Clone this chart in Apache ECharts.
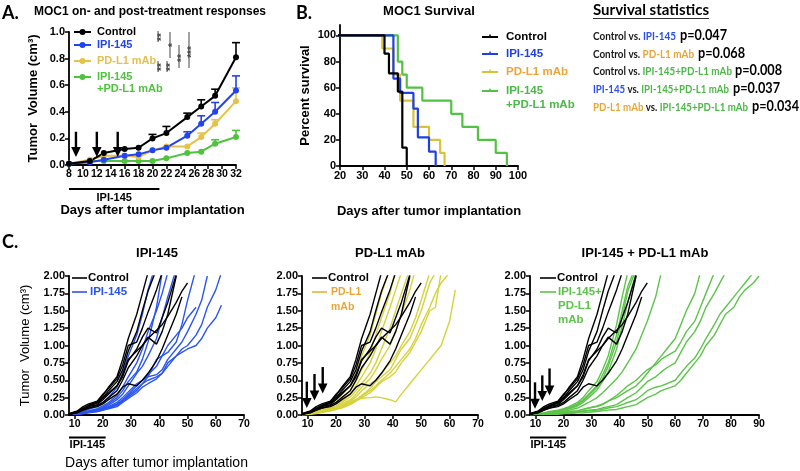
<!DOCTYPE html>
<html><head><meta charset="utf-8">
<script src="https://cdn.jsdelivr.net/npm/echarts@6/dist/echarts.min.js"></script>
<style>html,body{margin:0;padding:0;background:#fff}#c{width:800px;height:471px}</style>
</head><body><div id="c"></div>
<script>
// ================= DATA =================
// Panel A: mean tumor volume (cm3) and upper error bar
const aDays = [8, 11, 13, 16, 18, 20, 22, 25, 27, 29, 32];
const aControl    = [0.01, 0.03, 0.09, 0.12, 0.13, 0.20, 0.24, 0.36, 0.44, 0.52, 0.81];
const aControlUp  = [0.01, 0.03, 0.09, 0.12, 0.13, 0.23, 0.29, 0.39, 0.49, 0.57, 0.92];
const aIpi        = [0.01, 0.02, 0.04, 0.07, 0.08, 0.11, 0.13, 0.22, 0.31, 0.40, 0.56];
const aIpiUp      = [0.01, 0.02, 0.04, 0.07, 0.08, 0.11, 0.13, 0.25, 0.37, 0.47, 0.67];
const aPd         = [0.01, 0.04, 0.07, 0.07, 0.06, 0.11, 0.14, 0.14, 0.21, 0.31, 0.48];
const aPdUp       = [0.01, 0.04, 0.07, 0.07, 0.06, 0.11, 0.15, 0.16, 0.24, 0.34, 0.58];
const aCombo      = [0.01, 0.03, 0.03, 0.03, 0.03, 0.03, 0.05, 0.09, 0.10, 0.16, 0.21];
const aComboUp    = [0.01, 0.03, 0.03, 0.03, 0.03, 0.03, 0.05, 0.09, 0.10, 0.19, 0.26];
const aArrows = [[9, 0.25, 0.06], [12, 0.25, 0.06], [15, 0.25, 0.06]]; // day, top, tip

// Panel B: Kaplan-Meier survival (day, percent)
const survCtlX   = [0, 40, 42, 46, 48, 50];
const survCtlY   = [100, 86, 71, 57, 14, 0];
const survIpiX   = [0, 44, 47, 53, 55, 60, 63];
const survIpiY   = [100, 67, 56, 44, 22, 11, 0];
const survPdX    = [0, 39, 44, 47, 53, 60, 65, 67];
const survPdY    = [100, 90, 70, 50, 30, 20, 10, 0];
const survComboX = [0, 46, 48, 50, 57, 70, 75, 82, 90, 95];
const survComboY = [100, 80, 70, 60, 50, 40, 30, 20, 10, 0];
const survYTicks = [0, 20, 40, 60, 80, 100];

// Panel C: individual tumor growth curves, measured on these days
const cDays = [8, 11, 13, 15, 18, 20, 22, 25, 27, 29, 32, 34, 36, 39, 41, 43, 46, 48, 50, 53, 55, 57, 60, 62, 64, 67, 69, 71, 74, 76, 78, 81, 83, 85, 88, 90];
const cControl = [
  [0.01,0.04,0.10,0.14,0.19,0.28,0.40,0.55,0.80,1.10,1.45,1.75,2.05],
  [0.01,0.05,0.08,0.12,0.18,0.25,0.35,0.48,0.65,0.92,1.20,1.50,1.78,2.10],
  [0.02,0.06,0.12,0.16,0.20,0.30,0.38,0.52,0.72,1.00,1.05,1.25,1.48,1.80,2.05],
  [0.01,0.05,0.08,0.12,0.15,0.22,0.30,0.42,0.55,0.78,0.95,1.12,1.25,1.18,1.40,1.62,2.02],
  [0.01,0.03,0.07,0.10,0.14,0.18,0.25,0.35,0.50,0.68,0.85,1.00,1.12,1.02,1.20,1.45,2.00],
  [0.01,0.04,0.07,0.10,0.12,0.16,0.22,0.30,0.40,0.45,0.42,0.50,0.60,0.78,0.95,1.15,1.45,1.70],
  [0.02,0.05,0.09,0.13,0.17,0.24,0.32,0.42,0.58,0.80,0.92,1.00,1.10,1.22,1.30,1.42,1.62,1.78,1.90]
];
const cIpi = [
  [0.01,0.03,0.05,0.08,0.12,0.18,0.25,0.40,0.60,0.85,1.15,1.45,1.80,2.20],
  [0.01,0.02,0.04,0.06,0.09,0.13,0.18,0.28,0.40,0.55,0.75,0.95,1.20,1.50,1.75,2.05],
  [0.01,0.02,0.03,0.05,0.08,0.11,0.16,0.25,0.35,0.48,0.62,0.80,1.05,1.55,2.05],
  [0.01,0.02,0.04,0.05,0.07,0.10,0.14,0.22,0.30,0.42,0.60,0.70,0.85,1.10,1.40,1.70,2.10],
  [0.01,0.02,0.03,0.05,0.07,0.09,0.12,0.18,0.25,0.33,0.45,0.50,0.58,0.70,0.85,1.00,1.15,1.25,1.40,1.55],
  [0.01,0.02,0.03,0.04,0.06,0.08,0.11,0.16,0.22,0.30,0.42,0.50,0.55,0.80,0.85,0.90,1.05,1.30,1.65,2.10],
  [0.01,0.01,0.02,0.04,0.05,0.07,0.10,0.15,0.20,0.28,0.38,0.45,0.55,0.58,0.65,0.80,0.95,1.05,1.20,1.45,1.65,2.00],
  [0.01,0.02,0.03,0.04,0.06,0.08,0.10,0.14,0.20,0.26,0.35,0.45,0.50,0.55,0.60,0.75,0.85,0.95,1.00,1.15,1.30,1.55,1.80,2.05],
  [0.01,0.01,0.02,0.03,0.05,0.07,0.09,0.12,0.18,0.24,0.32,0.40,0.45,0.52,0.60,0.70,0.85,0.90,0.95,1.00,1.10,1.25,1.40,1.58]
];
const cPd = [
  [0.01,0.04,0.08,0.12,0.17,0.22,0.30,0.42,0.60,0.85,1.15,1.45,1.75,2.10],
  [0.01,0.03,0.06,0.10,0.14,0.18,0.24,0.35,0.48,0.65,0.90,1.15,1.40,1.75,2.10],
  [0.01,0.03,0.05,0.08,0.12,0.16,0.20,0.30,0.42,0.55,0.75,0.95,1.20,1.55,1.80,2.05],
  [0.01,0.02,0.05,0.07,0.10,0.13,0.18,0.26,0.35,0.45,0.60,0.75,0.95,1.25,1.50,1.75,2.10],
  [0.01,0.02,0.04,0.06,0.09,0.12,0.16,0.22,0.30,0.40,0.52,0.65,0.80,1.00,1.20,1.45,1.80,2.10],
  [0.01,0.02,0.04,0.06,0.08,0.10,0.14,0.20,0.26,0.35,0.45,0.50,0.60,0.75,0.85,1.00,1.20,1.40,1.65,2.05],
  [0.01,0.02,0.03,0.05,0.07,0.09,0.12,0.18,0.22,0.28,0.38,0.48,0.55,0.65,0.80,0.95,1.10,1.30,1.50,1.90,2.05],
  [0.01,0.02,0.03,0.04,0.06,0.08,0.10,0.15,0.20,0.25,0.32,0.40,0.48,0.55,0.62,0.75,0.90,1.05,1.20,1.50,1.55,2.05],
  [0.01,0.02,0.03,0.05,0.07,0.09,0.11,0.16,0.21,0.27,0.35,0.42,0.50,0.60,0.70,0.80,0.95,1.10,1.30,1.55,1.75,1.90,2.05],
  [0.00,0.01,0.02,0.04,0.06,0.08,0.12,0.18,0.22,0.24,0.25,0.26,0.25,0.22,0.19,0.30,0.45,0.55,0.65,0.80,0.90,1.00,1.35,1.80]
];
const cCombo = [
  [0.01,0.02,0.03,0.05,0.07,0.09,0.12,0.18,0.25,0.35,0.48,0.65,0.85,1.30,1.70,2.05],
  [0.01,0.02,0.03,0.04,0.06,0.08,0.11,0.16,0.22,0.30,0.42,0.58,0.75,1.15,1.50,1.85,2.15],
  [0.01,0.01,0.02,0.04,0.05,0.07,0.10,0.14,0.20,0.28,0.40,0.52,0.70,1.05,1.40,1.78,2.10],
  [0.01,0.01,0.02,0.03,0.05,0.07,0.09,0.13,0.18,0.25,0.36,0.48,0.62,0.95,1.28,1.62,2.05],
  [0.01,0.01,0.02,0.03,0.04,0.05,0.07,0.10,0.14,0.18,0.25,0.32,0.40,0.52,0.62,0.75,0.95,1.15,1.35,1.70,2.05],
  [0.01,0.01,0.01,0.02,0.03,0.04,0.05,0.06,0.08,0.10,0.13,0.16,0.20,0.25,0.30,0.35,0.42,0.50,0.60,0.75,0.85,0.95,1.10,1.30,1.50,1.75,2.05],
  [0.01,0.01,0.02,0.02,0.03,0.04,0.05,0.06,0.08,0.10,0.12,0.15,0.20,0.28,0.35,0.42,0.50,0.58,0.65,0.72,0.80,0.85,0.92,1.05,1.20,1.35,1.55,1.75,2.05],
  [0.01,0.01,0.01,0.02,0.02,0.03,0.04,0.05,0.06,0.07,0.08,0.10,0.12,0.15,0.20,0.25,0.32,0.40,0.48,0.55,0.62,0.68,0.75,0.90,1.05,1.20,1.35,1.55,1.75,1.90,2.05],
  [0.01,0.01,0.01,0.01,0.02,0.02,0.03,0.04,0.05,0.06,0.07,0.08,0.10,0.12,0.15,0.18,0.22,0.28,0.35,0.40,0.42,0.45,0.50,0.60,0.70,0.82,0.95,1.10,1.30,1.45,1.55,1.70,1.80,1.90,2.05],
  [0.00,0.01,0.01,0.01,0.01,0.02,0.02,0.03,0.03,0.04,0.05,0.06,0.07,0.08,0.10,0.12,0.15,0.20,0.25,0.30,0.35,0.38,0.42,0.50,0.60,0.75,0.85,1.00,1.15,1.30,1.45,1.55,1.70,1.80,1.90,2.00]
];
const c2Arrows = [[9.7, 0.48, 0.10], [12.4, 0.59, 0.21], [15.3, 0.69, 0.31]];
const c3Arrows = [[9.8, 0.47, 0.09], [12.4, 0.57, 0.20], [15.0, 0.67, 0.28]];
const cXTicks70 = [10, 20, 30, 40, 50, 60, 70];
const cXTicks90 = [10, 20, 30, 40, 50, 60, 70, 80, 90];
const ipiPeriod = [8, 21]; // IPI-145 dosing days (bar under axis)

// Survival statistics (log-rank p values)
const statPairs = [
  ['Control', 'IPI-145', 'p=0.047'],
  ['Control', 'PD-L1 mAb', 'p=0.068'],
  ['Control', 'IPI-145+PD-L1 mAb', 'p=0.008'],
  ['IPI-145', 'IPI-145+PD-L1 mAb', 'p=0.037'],
  ['PD-L1 mAb', 'IPI-145+PD-L1 mAb', 'p=0.034']
];

// ================= STYLE =================
const FONT = '"Liberation Sans", Arial, Helvetica, sans-serif';
const CAL = 'Lato, "Open Sans", sans-serif';
const BLACK = '#000000', BLUE = '#2244ee', GOLD = '#e6c24a', GREEN = '#4fc23e';
const C_BLUE = '#2a55f0', C_YEL = '#d6d23c', C_GREEN = '#5cc44a';
const ORANGE = '#e8a638';

function axis(o) {
  const base = {
    type: 'value', splitLine: {show: false},
    axisLine: {show: true, onZero: false, lineStyle: {color: '#000', width: 1.8}},
    nameTextStyle: {fontWeight: 'bold', fontSize: 13, color: '#000', fontFamily: FONT}
  };
  const lab = Object.assign({color: '#000', fontWeight: 'bold', fontSize: 11, fontFamily: FONT, margin: 4}, o.axisLabel || {});
  const tick = Object.assign({show: true, length: 4, lineStyle: {color: '#000', width: 1.5}}, o.axisTick || {});
  const r = Object.assign(base, o);
  r.axisLabel = lab; r.axisTick = tick;
  if (o.nameTextStyle) r.nameTextStyle = Object.assign({}, base.nameTextStyle, o.nameTextStyle);
  return r;
}

function zip(xs, ys) { return ys.map((v, i) => [xs[i], v]); }

function errSeries(means, ups, color) {
  return {
    type: 'custom', xAxisIndex: 0, yAxisIndex: 0, silent: true, z: 3,
    itemStyle: {color: color},
    data: aDays.map((d, i) => [d, means[i], ups[i]]),
    encode: {x: 0, y: [1, 2]},
    renderItem: function (p, api) {
      const lo = api.coord([api.value(0), api.value(1)]);
      const hi = api.coord([api.value(0), api.value(2)]);
      if (lo[1] - hi[1] < 3) return {type: 'group', children: []};
      return {type: 'group', children: [
        {type: 'line', shape: {x1: lo[0], y1: lo[1], x2: hi[0], y2: hi[1]}, style: {stroke: color, lineWidth: 1.6}},
        {type: 'line', shape: {x1: hi[0] - 4, y1: hi[1], x2: hi[0] + 4, y2: hi[1]}, style: {stroke: color, lineWidth: 1.6}}
      ]};
    }
  };
}

function arrowSeries(idx, arr) {
  return {
    type: 'custom', xAxisIndex: idx, yAxisIndex: idx, silent: true, z: 10,
    data: arr, encode: {x: 0, y: [1, 2]},
    renderItem: function (p, api) {
      const top = api.coord([api.value(0), api.value(1)]);
      const tip = api.coord([api.value(0), api.value(2)]);
      const hh = 10, hw = 4.8;
      return {type: 'group', children: [
        {type: 'line', shape: {x1: top[0], y1: top[1], x2: tip[0], y2: tip[1] - hh + 1}, style: {stroke: '#000', lineWidth: 2.4}},
        {type: 'polygon', shape: {points: [[tip[0] - hw, tip[1] - hh], [tip[0] + hw, tip[1] - hh], [tip[0], tip[1]]]}, style: {fill: '#000'}}
      ]};
    }
  };
}

function meanSeries(name, vals, color) {
  return {
    name: name, type: 'line', xAxisIndex: 0, yAxisIndex: 0, data: zip(aDays, vals),
    symbol: 'circle', symbolSize: 6, showSymbol: true,
    lineStyle: {color: color, width: 2}, itemStyle: {color: color}, z: 4
  };
}

function survSeries(name, xs, ys, color) {
  return {
    name: name, type: 'line', xAxisIndex: 1, yAxisIndex: 1, step: 'end', data: zip(xs, ys),
    symbol: 'none', showSymbol: false, clip: true,
    lineStyle: {color: color, width: 2.2}, itemStyle: {color: color}
  };
}

function mouseSeries(idx, group, color, label) {
  return group.map((vals, k) => ({
    name: label + ' ' + (k + 1), type: 'line', xAxisIndex: idx, yAxisIndex: idx,
    data: zip(cDays, vals), symbol: 'none', showSymbol: false, clip: true, silent: true,
    lineStyle: {color: color, width: 1.4}
  }));
}

const cY = (idx, withName) => axis({
  gridIndex: idx, min: 0, max: 2, interval: 0.25,
  axisLabel: {formatter: v => v.toFixed(2), fontSize: 11},
  name: withName ? 'Tumor  Volume (cm³)' : '', nameLocation: 'middle', nameRotate: 90, nameGap: 37,
  nameTextStyle: {fontSize: 13}
});
const cX = (idx, max, ticks, withName) => axis({
  gridIndex: idx, min: 8, max: max,
  axisLabel: {customValues: ticks, fontSize: 10.5},
  axisTick: {customValues: ticks},
  name: withName ? 'Days after tumor implantation' : '', nameLocation: 'middle', nameGap: 41,
  nameTextStyle: {fontSize: 14}
});

const option = {
  animation: false,
  textStyle: {fontFamily: FONT},
  grid: [
    {left: 69, top: 32, width: 167, height: 133},
    {left: 340, top: 25, width: 178, height: 141},
    {left: 69, top: 276, width: 175, height: 139},
    {left: 302, top: 276, width: 176, height: 139},
    {left: 530, top: 276, width: 229, height: 139}
  ],
  xAxis: [
    axis({gridIndex: 0, min: 8, max: 32, interval: 2, axisLabel: {fontSize: 10.5},
      name: 'Days after tumor implantation', nameLocation: 'middle', nameGap: 39}),
    axis({gridIndex: 1, min: 20, max: 100, interval: 10,
      name: 'Days after tumor implantation', nameLocation: 'middle', nameGap: 39}),
    cX(2, 70, cXTicks70, true),
    cX(3, 70, cXTicks70, false),
    cX(4, 90, cXTicks90, false)
  ],
  yAxis: [
    axis({gridIndex: 0, min: 0, max: 1, interval: 0.2, axisLabel: {formatter: v => v.toFixed(1)},
      name: 'Tumor  Volume (cm³)', nameLocation: 'middle', nameRotate: 90, nameGap: 29}),
    axis({gridIndex: 1, min: 0, max: 108, interval: 20,
      axisLabel: {customValues: survYTicks}, axisTick: {customValues: survYTicks},
      name: 'Percent survival', nameLocation: 'middle', nameRotate: 90, nameGap: 28}),
    cY(2, true), cY(3, false), cY(4, false)
  ],
  series: [].concat(
    [errSeries(aCombo, aComboUp, GREEN), errSeries(aPd, aPdUp, GOLD), errSeries(aIpi, aIpiUp, BLUE), errSeries(aControl, aControlUp, BLACK)],
    [meanSeries('IPI-145+PD-L1 mAb', aCombo, GREEN), meanSeries('PD-L1 mAb', aPd, GOLD), meanSeries('IPI-145', aIpi, BLUE), meanSeries('Control', aControl, BLACK)],
    [arrowSeries(0, aArrows)],
    [survSeries('Combo survival', survComboX, survComboY, '#52c243'), survSeries('PD-L1 survival', survPdX, survPdY, '#d9c23a'),
     survSeries('IPI-145 survival', survIpiX, survIpiY, '#1f3fe8'), survSeries('Control survival', survCtlX, survCtlY, BLACK)],
    mouseSeries(2, cIpi, C_BLUE, 'IPI-145 mouse'), mouseSeries(2, cControl, BLACK, 'Control mouse'),
    mouseSeries(3, cPd, C_YEL, 'PD-L1 mouse'), mouseSeries(3, cControl, BLACK, 'Control mouse C2'),
    mouseSeries(4, cCombo, C_GREEN, 'Combo mouse'), mouseSeries(4, cControl, BLACK, 'Control mouse C3'),
    [arrowSeries(3, c2Arrows), arrowSeries(4, c3Arrows)]
  )
};

const chart = echarts.init(document.getElementById('c'), null, {renderer: 'canvas', width: 800, height: 471});
chart.setOption(option);

// ================= ANNOTATIONS =================
const G = [];
function txt(x, y, text, opts, extra) {
  G.push(Object.assign({type: 'text', x: x, y: y, silent: true,
    style: Object.assign({text: text, fill: '#000', font: 'bold 12px ' + FONT, align: 'left', verticalAlign: 'middle'}, opts || {})}, extra || {}));
}
function ln(x1, y1, x2, y2, color, w) {
  G.push({type: 'line', silent: true, shape: {x1, y1, x2, y2}, style: {stroke: color || '#000', lineWidth: w || 2}});
}

// Panel letters and titles
txt(2, 13, 'A.', {font: 'bold 18px ' + CAL});
txt(150, 12, 'MOC1 on- and post-treatment responses', {font: 'bold 12px ' + FONT, align: 'center'});
txt(296, 13, 'B.', {font: 'bold 18px ' + CAL});
txt(429, 11, 'MOC1 Survival', {font: 'bold 13px ' + FONT, align: 'center'});
txt(2, 242, 'C.', {font: 'bold 18px ' + CAL});
txt(157, 253, 'IPI-145', {font: 'bold 13px ' + FONT, align: 'center'});
txt(390, 253, 'PD-L1 mAb', {font: 'bold 13px ' + FONT, align: 'center'});
txt(645, 253, 'IPI-145 + PD-L1 mAb', {font: 'bold 13px ' + FONT, align: 'center'});

// Legend A
const legA = [['Control', BLACK, BLACK, 32], ['IPI-145', BLUE, BLUE, 45], ['PD-L1 mAb', GOLD, '#e3c050', 61], ['IPI-145', GREEN, GREEN, 77]];
legA.forEach(r => {
  ln(74, r[3], 91, r[3], r[1], 2);
  G.push({type: 'circle', silent: true, shape: {cx: 82.5, cy: r[3], r: 3}, style: {fill: r[1]}});
  txt(97, r[3], r[0], {fill: r[2], font: 'bold 11px ' + FONT});
});
txt(97, 89, '+PD-L1 mAb', {fill: GREEN, font: 'bold 11px ' + FONT});

// significance marks A
const SG = '#444';
ln(170, 32, 170, 58, SG, 1); ln(179, 45, 179, 68, SG, 1); ln(189, 32, 189, 68, SG, 1);
ln(158, 31, 158, 42, SG, 1); ln(158, 61, 158, 72, SG, 1); ln(167, 61, 167, 72, SG, 1);
[[162, 37, '**'], [173, 45, '*'], [162, 67, '**'], [171, 67, '**'], [182.5, 58, '**'], [192, 52, '***']].forEach(s => {
  G.push({type: 'text', silent: true, x: s[0], y: s[1], rotation: Math.PI / 2,
    style: {text: s[2], fill: SG, font: 'bold 10px ' + FONT, align: 'center', verticalAlign: 'middle'}});
});

// Legend B
const legB = [['Control', BLACK, BLACK, 37], ['IPI-145', '#1f3fe8', '#1f3fe8', 54], ['PD-L1 mAb', '#d9c23a', ORANGE, 72], ['IPI-145', '#52c243', '#4cb848', 91]];
legB.forEach(r => {
  ln(482, r[3], 498, r[3], r[1], 2);
  ln(490, r[3] - 2.5, 490, r[3], r[1], 1.5);
  txt(506, r[3], r[0], {fill: r[2], font: 'bold 11.5px ' + FONT});
});
txt(506, 105, '+PD-L1 mAb', {fill: '#4cb848', font: 'bold 11.5px ' + FONT});

// Survival statistics (Calibri-like condensed layout)
txt(593, 10, 'Survival statistics', {font: 'bold 15px ' + CAL});
ln(593, 18.5, 709, 18.5, '#333', 1);
const nameColor = {'Control': '#1a1a1a', 'IPI-145': '#2a4ff0', 'PD-L1 mAb': ORANGE, 'IPI-145+PD-L1 mAb': '#4cb848'};
const statRowY = [36, 54, 71.5, 89, 107];
const statNameW = [83, 101, 139, 136, 155];
const statPX = [680, 698, 735, 733, 752];
const mctx = document.createElement('canvas').getContext('2d');
function tw(font, s) { mctx.font = font; return mctx.measureText(s).width; }
const NF = 'bold 12px ' + CAL, PF = 'bold 15px ' + CAL;
statPairs.forEach((r, i) => {
  const segs = [[r[0], nameColor[r[0]]], [' vs. ', '#1a1a1a'], [r[1], nameColor[r[1]]]];
  const total = segs.reduce((a, s) => a + tw(NF, s[0]), 0);
  const sc = statNameW[i] / total;
  let x = 593;
  segs.forEach(s => {
    txt(x, statRowY[i], s[0], {fill: s[1], font: NF}, {scaleX: sc});
    x += tw(NF, s[0]) * sc;
  });
  const pw = tw(PF, r[2]);
  txt(statPX[i], statRowY[i] - 1, r[2], {fill: '#000', font: PF}, {scaleX: 47 / pw});
});

// Legends C
ln(72, 278, 87, 278, BLACK, 1.6); txt(88, 278, 'Control', {font: 'bold 11.5px ' + FONT});
ln(72, 292, 87, 292, C_BLUE, 1.6); txt(90, 292, 'IPI-145', {fill: C_BLUE, font: 'bold 11.5px ' + FONT});
ln(312, 278, 327, 278, BLACK, 1.6); txt(328, 278, 'Control', {font: 'bold 11.5px ' + FONT});
ln(312, 292, 327, 292, '#e8b030', 1.6); txt(331, 292, 'PD-L1', {fill: ORANGE, font: 'bold 10.5px ' + FONT});
txt(331, 307, 'mAb', {fill: ORANGE, font: 'bold 10.5px ' + FONT});
ln(540, 278, 556, 278, BLACK, 1.6); txt(557, 278, 'Control', {font: 'bold 11.5px ' + FONT});
ln(540, 292, 556, 292, C_GREEN, 1.6); txt(558, 292, 'IPI-145+', {fill: C_GREEN, font: 'bold 11.5px ' + FONT});
txt(558, 306, 'PD-L1', {fill: C_GREEN, font: 'bold 11.5px ' + FONT});
txt(558, 320, 'mAb', {fill: C_GREEN, font: 'bold 11.5px ' + FONT});

// IPI-145 dosing bars under x-axes (positioned through the axes)
function dosingBar(gridIndex, dy, ty) {
  const p0 = chart.convertToPixel({gridIndex: gridIndex}, [ipiPeriod[0], 0]);
  const p1 = chart.convertToPixel({gridIndex: gridIndex}, [ipiPeriod[1], 0]);
  ln(p0[0], p0[1] + dy, p1[0], p0[1] + dy, '#000', 2);
  txt((p0[0] + p1[0]) / 2, p0[1] + ty, 'IPI-145', {align: 'center', font: 'bold 11px ' + FONT});
}
dosingBar(0, 24, 33);
dosingBar(2, 22.5, 30);
dosingBar(4, 22.5, 30);

chart.setOption({graphic: G});
</script>
</body></html>
